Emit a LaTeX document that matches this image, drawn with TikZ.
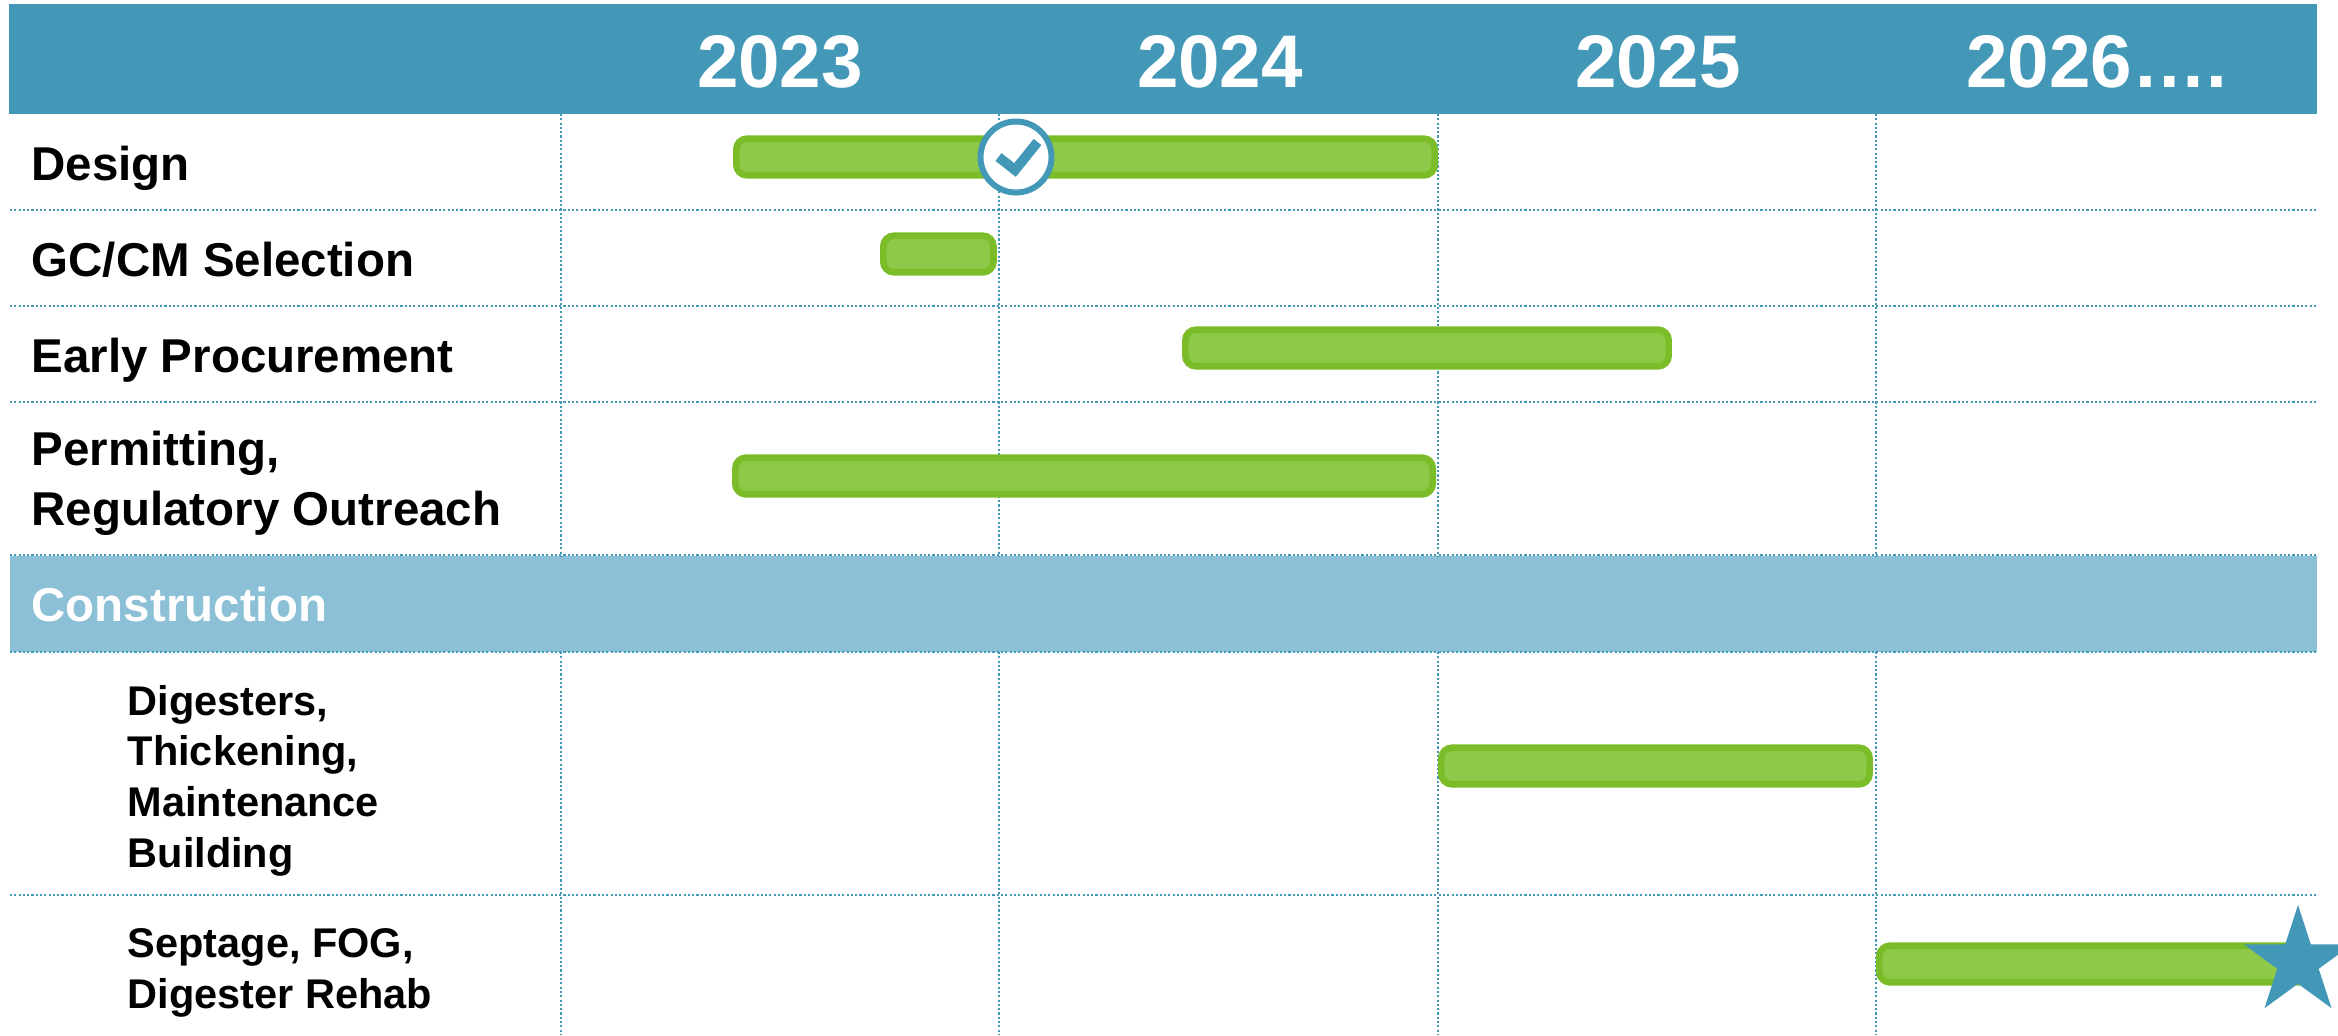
\documentclass[tikz,border=0pt]{standalone}
\usepackage{fontspec}
\setmainfont{Liberation Sans}
\usetikzlibrary{positioning, shapes.geometric}

\definecolor{headblue}{HTML}{4397B7}
\definecolor{bandblue}{HTML}{8BC0D6}
\definecolor{barfill}{HTML}{8FC94A}
\definecolor{barline}{HTML}{7ABD28}

\begin{document}
\begin{tikzpicture}[x=0.01cm,y=-0.01cm,
            year/.style={anchor=base,inner sep=0pt,text=white,font=\fontsize{21.2}{25}\selectfont\bfseries},
            rowlabel/.style={anchor=base west,inner sep=0pt,align=left,font=\fontsize{13.5}{17}\selectfont\bfseries},
            sublabel/.style={anchor=base west,inner sep=0pt,align=left,font=\fontsize{11.8}{14.4}\selectfont\bfseries},
            gridline/.style={headblue,line width=0.7pt,dash pattern=on 0.6pt off 0.62pt},
            bar/.style={draw=barline,fill=barfill,line width=1.9pt,rounded corners=3pt,anchor=west,inner sep=0pt,minimum height=0.365cm}]

            \useasboundingbox (0,0) rectangle (2338,1035);

            % Header and construction bands
            \fill[headblue] (9,4) rectangle (2317,114);
            \fill[bandblue] (10,556) rectangle (2317,652);

            % Grid lines
            \draw[gridline] (561,114) -- (561,556);
            \draw[gridline] (999,114) -- (999,556);
            \draw[gridline] (1438,114) -- (1438,556);
            \draw[gridline] (1876,114) -- (1876,556);
            \draw[gridline] (561,652) -- (561,1035);
            \draw[gridline] (999,652) -- (999,1035);
            \draw[gridline] (1438,652) -- (1438,1035);
            \draw[gridline] (1876,652) -- (1876,1035);
            \draw[gridline] (10,210) -- (2316,210);
            \draw[gridline] (10,306) -- (2316,306);
            \draw[gridline] (10,402) -- (2316,402);
            \draw[gridline] (10,555) -- (2316,555);
            \draw[gridline] (10,652) -- (2316,652);
            \draw[gridline] (10,895) -- (2316,895);

            % Years
            \node[year] (y2023) at (780,87) {2023};
            \node[year] (y2024) at (1220,87) {2024};
            \node[year] (y2025) at (1658,87) {2025};
            \node[year] (y2026) at (2097,87) {2026….};

            % Row labels
            \node[rowlabel] (design) at (31,180) {Design};
            \node[rowlabel] (gccm) at (31,276) {GC/CM Selection};
            \node[rowlabel] (early) at (31,372) {Early Procurement};
            \node[rowlabel] (permit) at (31,525) {Permitting,\\Regulatory Outreach};
            \node[rowlabel,text=white] (constr) at (31,621) {Construction};
            \node[sublabel] (digest) at (127,867) {Digesters,\\Thickening,\\Maintenance\\Building};
            \node[sublabel] (septage) at (127,1008) {Septage, FOG,\\Digester Rehab};

            % Bars
            \node[bar,minimum width=6.98cm] (designbar) at (733,157) {};
            \node[bar,minimum width=1.10cm] (gccmbar) at (880,254) {};
            \node[bar,minimum width=4.83cm] (earlybar) at (1182,348) {};
            \node[bar,minimum width=6.97cm] (permitbar) at (732,476) {};
            \node[bar,minimum width=4.28cm] (digestbar) at (1438,766) {};
            \node[bar,minimum width=4.30cm] (septagebar) at (1876,964) {};

            % Milestones
            \node[circle,draw=headblue,fill=white,line width=1.7pt,minimum size=0.71cm,inner sep=0pt] (check) at (1016,157) {};
            \draw[headblue,line width=2.8pt] ([shift={(-17.5,0)}]check.center) -- ([shift={(-1,13)}]check.center) -- ([shift={(21.5,-15)}]check.center);
            \node[star,star points=5,star point ratio=2.618,fill=headblue,inner sep=0pt,minimum size=1.14cm] (finish) at (2298,962) {};
\end{tikzpicture}
\end{document}
